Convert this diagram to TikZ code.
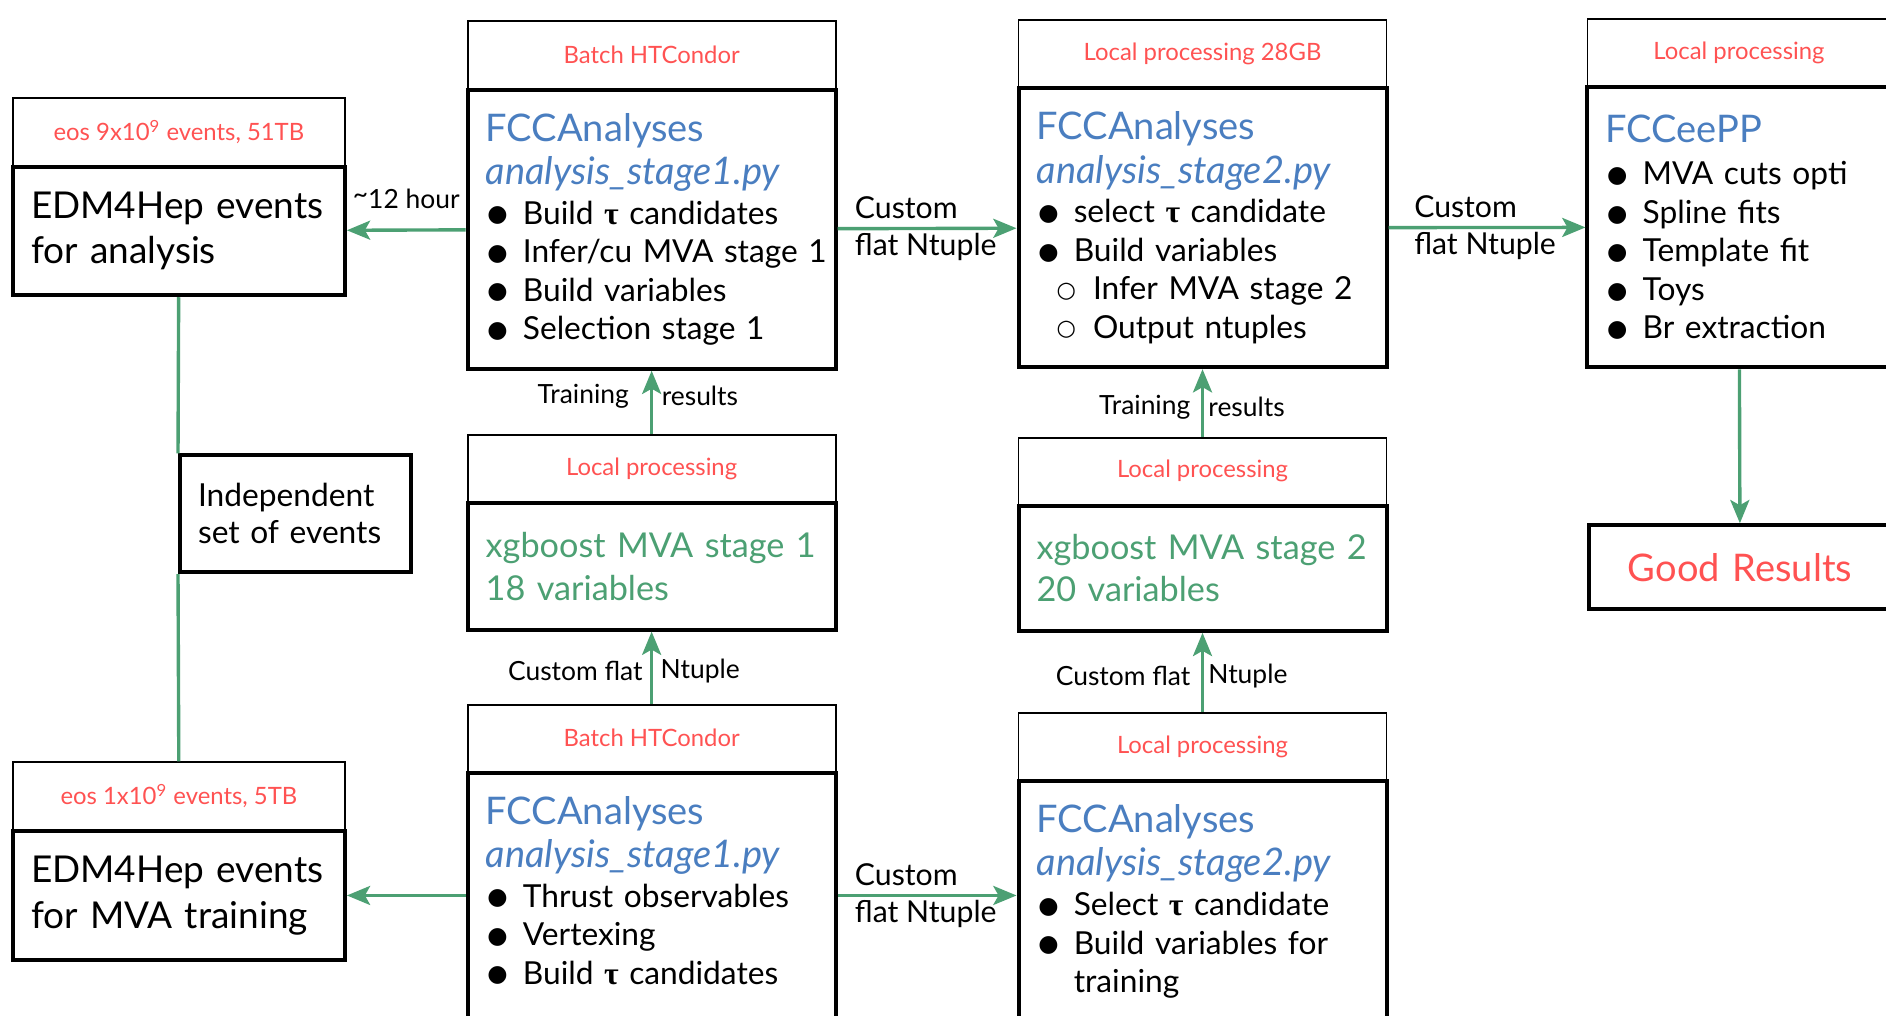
\documentclass[tikz,border=0pt]{standalone}
\usepackage{fontspec}
\setmainfont{Lato}
\newfontfamily\symfont{DejaVu Sans}
\newfontfamily\taufont{Liberation Serif}
\usepackage{tikz}
\usetikzlibrary{arrows.meta,positioning}
\definecolor{hired}{RGB}{255,82,82}
\definecolor{fccblue}{RGB}{74,126,192}
\definecolor{mvagreen}{RGB}{76,160,115}
\newcommand{\bulsym}{\raisebox{1.1pt}{\symfont\fontsize{11}{11}\selectfont ●}}
\newcommand{\itm}{\makebox[17.6pt][l]{\hspace{0.8pt}\bulsym}}
\newcommand{\subitm}{\makebox[26.7pt][l]{\hspace{9.5pt}\raisebox{1.1pt}{\symfont\fontsize{10.5}{11}\selectfont ○}}}
\newcommand{\tauc}{{\taufont\bfseries τ}}
\newcommand{\fcctitle}[1]{{\color{fccblue}\fontsize{18}{21}\selectfont #1}}
\newcommand{\fccfile}[1]{{\color{fccblue}\itshape\fontsize{18}{21}\selectfont #1}}
\tikzset{
  %Define standard arrow tip
  >={Stealth[length=11pt,width=9pt,inset=2.5pt]},
  %Define style for the header boxes
  hdr/.style={
    rectangle,
    draw=black, line width=0.9pt,
    minimum width=6.12cm,
    minimum height=1.12cm,
    text=hired,
    font=\fontsize{11.3}{13}\selectfont},
  %Define style for the thick boxes
  stagebox/.style={
    rectangle,
    draw=black, line width=1.9pt,
    text width=5.52cm,
    inner xsep=0.3cm, inner ysep=0.39cm,
    align=left,
    font=\fontsize{15}{18.2}\selectfont},
  % Define arrow style
  flow/.style={
    ->,
    draw=mvagreen, line width=1.6pt},
  lbl/.style={font=\fontsize{12.5}{15}\selectfont, inner sep=2pt},
  flowlbl/.style={font=\fontsize{14.3}{17.6}\selectfont, align=left, inner sep=0pt, anchor=west}
}

\begin{document}
\begin{tikzpicture}[x=0.02cm, y=-0.02cm]
  \useasboundingbox (0,0) rectangle (1568,844);
  \clip (0,0) rectangle (1568,844);
  % input events
  \node[hdr, minimum width=5.52cm, anchor=north west] (hA1) at (10,81) {eos 9x10\textsuperscript{9} events, 51TB};
  \node[stagebox, text width=4.92cm, minimum height=2.14cm, below=-1pt of hA1,
        font=\fontsize{17.5}{21.6}\selectfont] (bA1) {EDM4Hep events\\for analysis};
  \node[hdr, minimum width=5.52cm, anchor=north west] (hA2) at (10,633) {eos 1x10\textsuperscript{9} events, 5TB};
  \node[stagebox, text width=4.92cm, minimum height=2.16cm, below=-1pt of hA2,
        font=\fontsize{17.5}{21.6}\selectfont] (bA2) {EDM4Hep events\\for MVA training};
  \node[stagebox, text width=3.24cm, minimum height=1.94cm, anchor=north west,
        font=\fontsize{15}{17.6}\selectfont] (indep) at (148,377) {Independent\\set of events};
  % stage 1
  \node[hdr, anchor=north west] (hB1) at (388,17) {Batch HTCondor};
  \node[stagebox, below=-1pt of hB1] (bB1) {\fcctitle{FCCAnalyses}\\[2.3pt]
    \fccfile{analysis\_stage1.py}\\[0.6pt]
    \itm Build \tauc{} candidates\\
    \itm \mbox{Infer/cu MVA stage 1}\\
    \itm Build variables\\
    \itm Selection stage 1};
  \node[hdr, anchor=north west] (hB2) at (388,361) {Local processing};
  \node[stagebox, minimum height=2.1cm, below=-1pt of hB2, text=mvagreen,
        font=\fontsize{16.2}{20}\selectfont] (bB2) {\mbox{xgboost MVA stage 1}\\18 variables};
  \node[hdr, anchor=north west] (hB3) at (388,585) {Batch HTCondor};
  \node[stagebox, below=-1pt of hB3] (bB3) {\fcctitle{FCCAnalyses}\\[2.3pt]
    \fccfile{analysis\_stage1.py}\\[0.6pt]
    \itm Thrust observables\\
    \itm Vertexing\\
    \itm Build \tauc{} candidates\\
    \mbox{}};
  % stage 2
  \node[hdr, anchor=north west] (hC1) at (846,16) {Local processing 28GB};
  \node[stagebox, below=-1pt of hC1] (bC1) {\fcctitle{FCCAnalyses}\\[2.3pt]
    \fccfile{analysis\_stage2.py}\\[0.6pt]
    \itm select \tauc{} candidate\\
    \itm Build variables\\
    \subitm Infer MVA stage 2\\
    \subitm Output ntuples};
  \node[hdr, anchor=north west] (hC2) at (846,363) {Local processing};
  \node[stagebox, minimum height=2.08cm, below=-1pt of hC2, text=mvagreen,
        font=\fontsize{16.2}{20}\selectfont] (bC2) {\mbox{xgboost MVA stage 2}\\20 variables};
  \node[hdr, anchor=north west] (hC3) at (846,592) {Local processing};
  \node[stagebox, below=-1pt of hC3] (bC3) {\fcctitle{FCCAnalyses}\\[2.3pt]
    \fccfile{analysis\_stage2.py}\\[0.6pt]
    \itm Select \tauc{} candidate\\
    \itm Build variables for\\
    \hspace*{17.6pt}training\\
    \mbox{}};
  % final fit
  \node[hdr, minimum width=5.04cm, anchor=north west] (hD1) at (1319,15) {Local processing};
  \node[stagebox, text width=4.44cm, minimum height=4.66cm, below=-1pt of hD1] (bD1) {\fcctitle{FCCeePP}\\[1.8pt]
    \itm MVA cuts opti\\
    \itm Spline fits\\
    \itm Template fit\\
    \itm Toys\\
    \itm Br extraction};
  \node[stagebox, text width=4.44cm, minimum height=1.4cm, align=center, text=hired,
        font=\fontsize{18}{21}\selectfont, anchor=north west] (good) at (1319,435) {Good Results};

  \draw[flow] (bB1) -- node[lbl, above=0.26cm] {\raisebox{0.35ex}{\textasciitilde}12 hour} (bA1);
  \draw[flow] (bB3.west |- bA2) -- (bA2);
  \draw[flow, -] (bA1) -- (indep.north west);
  \draw[flow, -] (indep.south west) -- (hA2);
  \draw[flow] (bB1) -- node[flowlbl, pos=0, xshift=0.26cm] {Custom\\flat Ntuple} (bC1);
  \draw[flow] (bB3.east |- bA2) -- node[flowlbl, pos=0, xshift=0.26cm] {Custom\\flat Ntuple} (bC3.west |- bA2);
  \draw[flow] (bC1) -- node[flowlbl, pos=0, xshift=0.4cm] {Custom\\flat Ntuple} (bD1);
  \draw[flow] (hB2) -- node[lbl, pos=0.6, left=8pt] {Training} node[lbl, pos=0.6, right=2pt] {results} (bB1);
  \draw[flow] (hB3) -- node[lbl, pos=0.45, left=1.5pt] {Custom flat} node[lbl, pos=0.45, right=1.5pt] {Ntuple} (bB2);
  \draw[flow] (hC2) -- node[lbl, pos=0.44, left=3pt] {Training} node[lbl, pos=0.44, right=0pt] {results} (bC1);
  \draw[flow] (hC3) -- node[lbl, pos=0.46, left=3pt] {Custom flat} node[lbl, pos=0.46, right=0pt] {Ntuple} (bC2);
  \draw[flow] (bD1) -- (good);
\end{tikzpicture}
\end{document}
